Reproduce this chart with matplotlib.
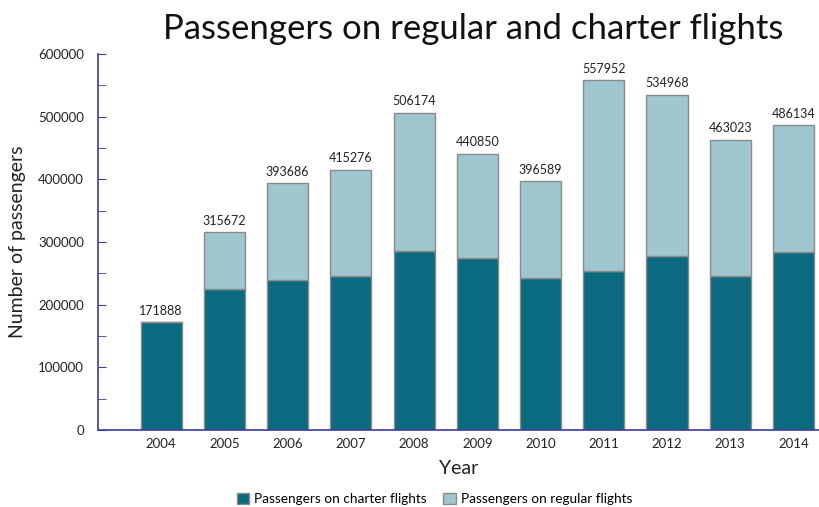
import matplotlib
matplotlib.use("Agg")
import matplotlib.pyplot as plt
from matplotlib.ticker import MultipleLocator
from matplotlib.patches import Patch

years = ["2004", "2005", "2006", "2007", "2008", "2009", "2010", "2011", "2012", "2013", "2014"]
charter = [171888, 225000, 240000, 246000, 286000, 275000, 242000, 253000, 277000, 246000, 284000]
regular = [0, 90672, 153686, 169276, 220174, 165850, 154589, 304952, 257968, 217023, 202134]
totals = [171888, 315672, 393686, 415276, 506174, 440850, 396589, 557952, 534968, 463023, 486134]

plt.rcParams['font.family'] = ['Lato', 'DejaVu Sans']

dark = "#0b6a80"
light = "#9fc5ce"
edge = "#8a8a8a"
axis_col = "#3b3b9c"

fig = plt.figure(figsize=(8.2, 5.07), dpi=100)
ax = fig.add_axes([0.1195, 0.1519, 0.8805, 0.7416])

x = list(range(len(years)))
ax.bar(x, charter, width=0.65, color=dark, edgecolor=edge, linewidth=1.0, zorder=2)
ax.bar(x, regular, width=0.65, bottom=charter, color=light, edgecolor=edge, linewidth=1.0, zorder=2)

for xi, t in zip(x, totals):
    ax.text(xi, t + 9000, str(t), ha='center', va='bottom', fontsize=9, color='#222222')

ax.set_xlim(-1.0, 10.42)
ax.set_ylim(0, 600000)
ax.set_xticks(x)
ax.set_xticklabels(years, fontsize=9.5, color='#222222')
ax.tick_params(axis='x', length=0, pad=6)
ax.yaxis.set_major_locator(MultipleLocator(100000))
ax.yaxis.set_minor_locator(MultipleLocator(50000))
ax.tick_params(axis='y', which='both', direction='in', length=6, color=axis_col, labelsize=9.5, labelcolor='#222222', pad=10)

for s in ['top', 'right']:
    ax.spines[s].set_visible(False)
for s in ['left', 'bottom']:
    ax.spines[s].set_color(axis_col)
    ax.spines[s].set_linewidth(1.2)

ax.set_ylabel("Number of passengers", fontsize=14, color='#222222', labelpad=9)
ax.set_xlabel("Year", fontsize=14, color='#222222', labelpad=7)

fig.text(0.577, 0.943, "Passengers on regular and charter flights", ha='center', va='center', fontsize=25, color='#111111')

handles = [Patch(facecolor=dark, edgecolor=edge), Patch(facecolor=light, edgecolor=edge)]
fig.legend(handles, ["Passengers on charter flights", "Passengers on regular flights"],
           loc='center', bbox_to_anchor=(0.53, 0.016), ncol=2, frameon=False, fontsize=9.8,
           handlelength=0.9, handleheight=0.9, handletextpad=0.4, columnspacing=1.2)

fig.savefig("out.png", dpi=100)
